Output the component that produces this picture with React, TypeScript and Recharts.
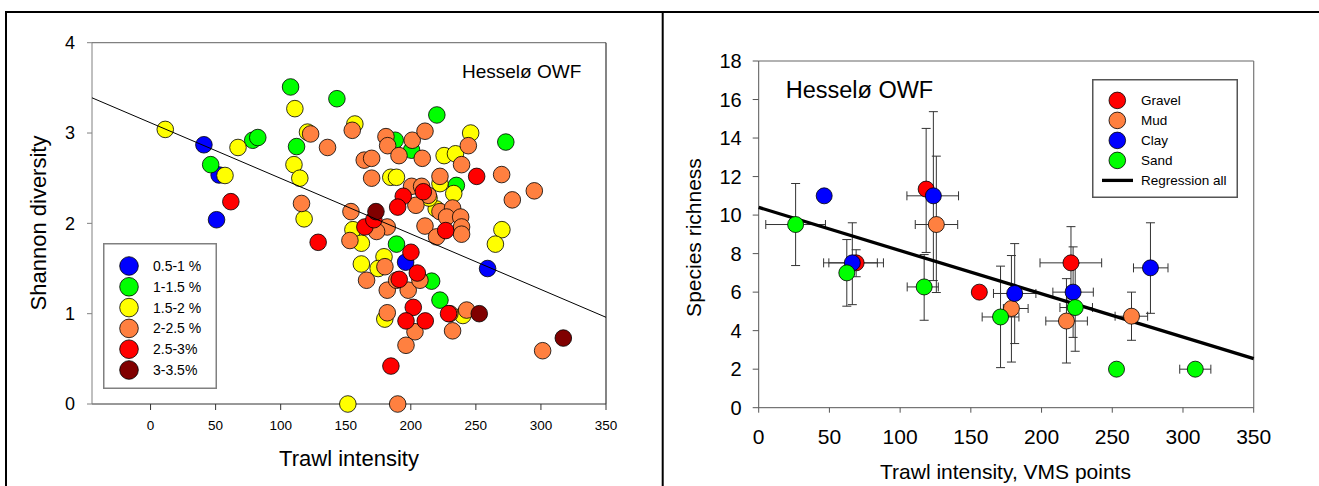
import React from 'react';
import { ScatterChart, Scatter, XAxis, YAxis, ReferenceLine, ErrorBar, Legend } from 'recharts';

const FONT = '"Liberation Sans", Arial, Helvetica, sans-serif';

// ---------- Left panel: Shannon diversity vs trawl intensity ----------
const leftCategories = ['0.5-1 %', '1-1.5 %', '1.5-2 %', '2-2.5 %', '2.5-3%', '3-3.5%'];
const leftColors = ['#0000FF', '#00FF00', '#FFFF00', '#FF8040', '#FF0000', '#800000'];
const leftXTicks = [0, 50, 100, 150, 200, 250, 300, 350];
const leftYTicks = [0, 1, 2, 3, 4];

const mud05to1: [number, number][] = [
  [41, 2.87], [50.7, 2.04], [52.7, 2.535], [196, 1.57], [259, 1.5],
];
const mud1to15: [number, number][] = [
  [107.6, 3.51], [143.2, 3.38], [46.2, 2.65], [78.5, 2.92], [82.4, 2.95], [112.2, 2.85],
  [220, 3.2], [273, 2.9], [200.6, 2.81], [188, 2.92], [235, 2.42], [189, 1.77],
  [216, 1.36], [222.4, 1.15],
];
const mud15to2: [number, number][] = [
  [11.3, 3.04], [57.2, 2.53], [67.2, 2.84], [110.9, 3.27], [110.2, 2.65], [114.7, 2.5],
  [118, 2.05], [120.6, 3.01], [157, 3.1], [155.5, 1.93], [162, 1.78], [162, 1.55],
  [179.4, 1.63], [174.9, 1.5], [184.6, 2.51], [189, 2.51], [151.6, 0], [180, 0.94],
  [225.6, 2.75], [234.3, 2.77], [246, 3.0], [233, 2.33], [222.4, 2.44], [219.5, 2.16],
  [214, 2.28], [270, 1.93], [265, 1.77], [240, 0.98],
];
const mud2to25: [number, number][] = [
  [123, 2.99], [136, 2.84], [155, 3.03], [180.9, 2.96], [182.2, 2.86], [190.9, 2.75],
  [201.1, 2.92], [210.9, 3.02], [208.8, 2.72], [164.2, 2.7], [169.9, 2.72], [169.9, 2.5],
  [244.2, 2.86], [239, 2.65], [269.8, 2.54], [278, 2.26], [294.9, 2.36], [222.4, 2.52],
  [200.6, 2.41], [208.3, 2.41], [213.4, 2.31], [203.9, 2.2], [222.4, 2.13], [232.1, 2.17],
  [227.5, 2.07], [238.3, 2.07], [239, 1.96], [239, 1.88], [210.9, 1.97], [219.8, 1.85],
  [154, 2.13], [153.2, 1.81], [181.9, 1.96], [173.7, 1.91], [180.1, 1.52], [166, 1.37],
  [181.9, 1.26], [189.1, 1.37], [198, 1.26], [207, 1.37], [181.9, 1.01], [203.2, 0.8],
  [196.3, 0.65], [232.1, 0.81], [242.9, 1.04], [230, 1.0], [301.3, 0.59], [189.9, 0],
  [116, 2.22],
];
const mud25to3: [number, number][] = [
  [61.7, 2.24], [128.8, 1.79], [250.6, 2.52], [194.2, 2.3], [189.9, 2.18], [209.6, 2.35],
  [164.7, 1.96], [171.6, 2.04], [226.8, 1.92], [200.1, 1.68], [205, 1.45], [191.1, 1.38],
  [201.9, 1.07], [196.3, 0.92], [211.1, 0.92], [229, 1.0], [184.7, 0.42],
];
const mud3to35: [number, number][] = [
  [173.2, 2.13], [252.6, 1.0], [317.2, 0.73],
];
const leftSeries = [mud05to1, mud1to15, mud15to2, mud2to25, mud25to3, mud3to35];
const leftRegression: [number, number][] = [[-45, 3.39], [350, 0.96]];

// ---------- Right panel: species richness vs VMS points ----------
const rightCategories = ['Gravel', 'Mud', 'Clay', 'Sand'];
const rightColors = ['#FF0000', '#FF8040', '#0000FF', '#00FF00'];
const rightXTicks = [0, 50, 100, 150, 200, 250, 300, 350];
const rightYTicks = [0, 2, 4, 6, 8, 10, 12, 14, 16, 18];

type Row = [number, number, number | null, number | null, number | null, number | null];
// [x, y, xLow, xHigh, yLow, yHigh]
const gravel: Row[] = [
  [118.4, 11.35, null, null, 8.06, 14.5],
  [68.9, 7.52, 49.6, 88.2, 6.8, 8.2],
  [156, 6.0, null, null, null, null],
  [220.8, 7.52, 198.9, 242.5, 5.65, 9.4],
];
const mud: Row[] = [
  [125.6, 9.51, 110.7, 140.7, 5.98, 13.06],
  [178.7, 5.15, 173, 190.5, 2.37, 7.9],
  [217.6, 4.5, 203, 232.4, 2.32, 6.7],
  [263.6, 4.75, 252, 275, 3.5, 6.0],
];
const clay: Row[] = [
  [46.3, 11.0, null, null, null, null],
  [66.2, 7.52, 45.9, 83.9, 5.35, 9.6],
  [123.5, 11.0, 104.8, 141.3, 6.6, 15.37],
  [181, 5.93, 166, 196, 3.33, 8.52],
  [222.3, 6.0, 208, 236.6, 3.65, 8.35],
  [277, 7.26, 265, 289.4, 4.9, 9.6],
];
const sand: Row[] = [
  [26.1, 9.51, 5, 47.2, 7.38, 11.64],
  [62.3, 7.0, null, null, 5.27, 8.73],
  [117, 6.27, 105, 127, 4.54, 7.95],
  [171, 4.71, 158, 184, 2.08, 7.35],
  [223.8, 5.2, 213, 236, 2.93, 7.5],
  [253, 2.0, null, null, null, null],
  [308.7, 2.0, 297.7, 319.7, null, null],
];
const rightSeries = [gravel, mud, clay, sand];
const rightRegression: [number, number][] = [[0, 10.4], [350, 2.55]];

// ---------- helpers ----------
const toPts = (arr: [number, number][]) => arr.map(([x, y]) => ({ x, y }));
const toErrPts = (arr: Row[]) =>
  arr.map(([x, y, xl, xh, yl, yh]) => ({
    x,
    y,
    ex: xl == null || xh == null ? undefined : [x - xl, xh - x],
    ey: yl == null || yh == null ? undefined : [y - yl, yh - y],
  }));

const dot = (fill: string, r: number) => (p: any) =>
  <circle cx={p.cx} cy={p.cy} r={r} fill={fill} stroke="#000" strokeWidth={0.8} />;
const noShape = () => <g />;

const LeftLegend = () => (
  <svg width={114} height={146} style={{ display: 'block' }}>
    <rect x={0.75} y={0.75} width={112.5} height={144.5} fill="#fff" stroke="#808080" strokeWidth={1.5} />
    {leftCategories.map((c, i) => (
      <g key={c}>
        <circle cx={26} cy={23 + i * 20.8} r={9.3} fill={leftColors[i]} stroke="#000" strokeWidth={0.8} />
        <text x={50} y={23 + i * 20.8 + 0.355 * 14} fontSize={14} fontFamily={FONT} fill="#000">{c}</text>
      </g>
    ))}
  </svg>
);

const RightLegend = () => (
  <svg width={146} height={119} style={{ display: 'block' }}>
    <rect x={0.75} y={0.75} width={144.5} height={117.5} fill="#fff" stroke="#555" strokeWidth={1.5} />
    {rightCategories.map((c, i) => (
      <g key={c}>
        <circle cx={25.3} cy={21.4 + i * 20} r={8.3} fill={rightColors[i]} stroke="#000" strokeWidth={0.8} />
        <text x={49} y={21.4 + i * 20 + 0.355 * 13.5} fontSize={13.5} fontFamily={FONT} fill="#000">{c}</text>
      </g>
    ))}
    <line x1={10} x2={41} y1={101.4} y2={101.4} stroke="#000" strokeWidth={3.3} />
    <text x={49} y={101.4 + 0.355 * 13.5} fontSize={13.5} fontFamily={FONT} fill="#000">Regression all</text>
  </svg>
);

export default function App() {
  return (
    <div style={{ position: 'absolute', left: 0, top: 0, width: 1319, height: 486, background: '#fff', fontFamily: FONT }}>
      <div style={{ position: 'absolute', left: 0, top: 0 }}>
        <ScatterChart width={662} height={486} margin={{ top: 42.7, right: 56, bottom: 40, left: 0 }}>
          <XAxis
            type="number" dataKey="x" domain={[-45, 350]} ticks={leftXTicks} interval={0}
            height={42} tickSize={6} tickMargin={10.7} stroke="#333"
            tick={{ fontSize: 13.5, fill: '#000', fontFamily: FONT }}
          />
          <YAxis
            type="number" dataKey="y" domain={[0, 4]} ticks={leftYTicks} interval={0}
            width={92} tickSize={5} tickMargin={12} stroke="#808080"
            tick={{ fontSize: 18, fill: '#000', fontFamily: FONT }}
          />
          <ReferenceLine y={4} stroke="#808080" strokeWidth={1.2} />
          <ReferenceLine x={350} stroke="#333" strokeWidth={1.2} />
          {leftSeries.map((s, i) => (
            <Scatter key={leftCategories[i]} name={leftCategories[i]} data={toPts(s)}
              fill={leftColors[i]} shape={dot(leftColors[i], 8.3)} isAnimationActive={false} />
          ))}
          <Scatter name="regression" data={toPts(leftRegression)} line={{ stroke: '#000', strokeWidth: 1 }}
            shape={noShape} legendType="none" isAnimationActive={false} />
          <Legend layout="vertical" align="center" verticalAlign="middle"
            wrapperStyle={{ left: 103, top: 243, width: 114, height: 146 }} content={() => <LeftLegend />} />
        </ScatterChart>
      </div>

      <div style={{ position: 'absolute', left: 662, top: 0 }}>
        <ScatterChart width={657} height={486} margin={{ top: 61, right: 65.3, bottom: 38.3, left: 0 }}>
          <XAxis
            type="number" dataKey="x" domain={[0, 350]} ticks={rightXTicks} interval={0}
            height={40} tickSize={5} tickMargin={16.6} stroke="#555"
            tick={{ fontSize: 21, fill: '#000', fontFamily: FONT }}
          />
          <YAxis
            type="number" dataKey="y" domain={[0, 18]} ticks={rightYTicks} interval={0}
            width={96.7} tickSize={6} tickMargin={11} stroke="#555"
            tick={{ fontSize: 20, fill: '#000', fontFamily: FONT }}
          />
          <ReferenceLine y={18} stroke="#666" strokeWidth={1.2} />
          <ReferenceLine x={350} stroke="#777" strokeWidth={1.2} />
          <Scatter name="Regression all" data={toPts(rightRegression)} line={{ stroke: '#000', strokeWidth: 3.3 }}
            shape={noShape} isAnimationActive={false} />
          {rightSeries.map((s, i) => (
            <Scatter key={rightCategories[i]} name={rightCategories[i]} data={toErrPts(s)}
              fill={rightColors[i]} shape={dot(rightColors[i], 8)} isAnimationActive={false}>
              <ErrorBar dataKey="ex" direction="x" width={4.5} stroke="#333" strokeWidth={1} isAnimationActive={false} />
              <ErrorBar dataKey="ey" direction="y" width={4.5} stroke="#333" strokeWidth={1} isAnimationActive={false} />
            </Scatter>
          ))}
          <Legend layout="vertical" align="center" verticalAlign="middle"
            wrapperStyle={{ left: 429.7, top: 79.3, width: 146, height: 119 }} content={() => <RightLegend />} />
        </ScatterChart>
      </div>

      <svg width={1319} height={486} style={{ position: 'absolute', left: 0, top: 0, pointerEvents: 'none' }}>
        <rect x={5} y={11} width={1314} height={2} fill="#000" />
        <rect x={5} y={11} width={2} height={475} fill="#000" />
        <rect x={661.7} y={11} width={2} height={475} fill="#000" />
        <text x={462} y={77.5} fontSize={19} fontFamily={FONT} fill="#000">Hesselø OWF</text>
        <text x={785.7} y={98.1} fontSize={23.5} fontFamily={FONT} fill="#000">Hesselø OWF</text>
        <text x={349} y={466} fontSize={22} fontFamily={FONT} fill="#000" textAnchor="middle">Trawl intensity</text>
        <text x={45.5} y={223} fontSize={22} fontFamily={FONT} fill="#000" textAnchor="middle"
          transform="rotate(-90 45.5 223)">Shannon diversity</text>
        <text x={1005.5} y={479} fontSize={21} fontFamily={FONT} fill="#000" textAnchor="middle">Trawl intensity, VMS points</text>
        <text x={701} y={237.5} fontSize={21} fontFamily={FONT} fill="#000" textAnchor="middle"
          transform="rotate(-90 701 237.5)">Species richness</text>
      </svg>
    </div>
  );
}
